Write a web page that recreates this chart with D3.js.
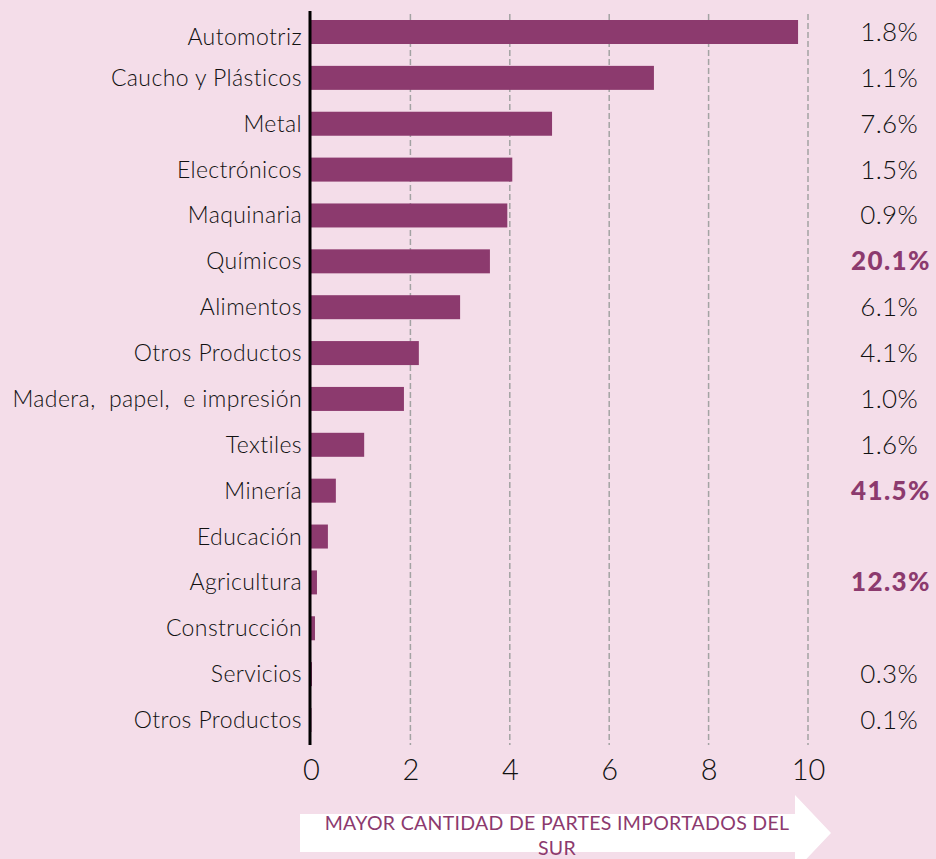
<!DOCTYPE html>
<html><head><meta charset="utf-8">
<script src="https://cdn.jsdelivr.net/npm/d3@7"></script>
<style>
html,body{margin:0;padding:0;background:#F4DDE9;}
svg{display:block;}
</style></head>
<body>
<svg id="chart" width="936" height="859"></svg>
<script>
const categories = ["Automotriz","Caucho y Plásticos","Metal","Electrónicos","Maquinaria","Químicos","Alimentos","Otros Productos","Madera,  papel,  e impresión","Textiles","Minería","Educación","Agricultura","Construcción","Servicios","Otros Productos "];
const values = [9.8,6.9,4.85,4.05,3.95,3.6,3.0,2.17,1.87,1.07,0.5,0.34,0.12,0.08,0.02,0.01];
const shares = ["1.8%","1.1%","7.6%","1.5%","0.9%","20.1%","6.1%","4.1%","1.0%","1.6%","41.5%","","12.3%","","0.3%","0.1%"];
const highlighted = [false,false,false,false,false,true,false,false,false,false,true,false,true,false,false,false];
const xTicks = [0,2,4,6,8,10];
const arrowText = ["MAYOR CANTIDAD DE PARTES IMPORTADOS DEL","SUR"];

const purple = "#8C3A6E";
const font = "Lato, 'Noto Sans', sans-serif";
const svg = d3.select("#chart");
svg.append("rect").attr("width",936).attr("height",859).attr("fill","#F4DDE9");

const x = d3.scaleLinear().domain([0,10]).range([311,808]);
const y = d3.scalePoint().domain(d3.range(categories.length)).range([32,720]);
const barH = 24;

// gridlines
svg.append("g").selectAll("line").data(xTicks.filter(d=>d>0)).join("line")
  .attr("x1",d=>x(d)).attr("x2",d=>x(d)).attr("y1",14).attr("y2",745)
  .attr("stroke","#A3A3A3").attr("stroke-width",1.5).attr("stroke-dasharray","6,3");

// bars
svg.append("g").selectAll("rect").data(values).join("rect")
  .attr("x",x(0)).attr("y",(d,i)=>y(i)-barH/2).attr("height",barH)
  .attr("width",d=>Math.max(0,x(d)-x(0))).attr("fill",purple);

// axis line
svg.append("line").attr("x1",310).attr("x2",310).attr("y1",11).attr("y2",745)
  .attr("stroke","#000").attr("stroke-width",3);

// category labels
svg.append("g").selectAll("text").data(categories).join("text")
  .attr("x",302).attr("y",(d,i)=>y(i)+(i===0?13:8))
  .attr("text-anchor","end").attr("font-family",font).attr("font-size",23).attr("font-weight",300)
  .attr("letter-spacing",0.4).attr("fill","#111").style("white-space","pre")
  .text(d=>d.trim());

// share labels
svg.append("g").selectAll("text").data(shares).join("text")
  .attr("x",(d,i)=>highlighted[i]?931:918).attr("y",(d,i)=>y(i)+9)
  .attr("text-anchor","end").attr("font-family",font)
  .attr("font-size",26)
  .attr("font-weight",(d,i)=>highlighted[i]?900:300)
  .attr("letter-spacing",(d,i)=>highlighted[i]?1.4:0.3)
  .attr("fill",(d,i)=>highlighted[i]?purple:"#111")
  .text(d=>d);

// x axis ticks
const axis = svg.append("g").attr("transform","translate(0,780)")
  .call(d3.axisBottom(x).tickValues(xTicks).tickSize(0).tickPadding(0).tickFormat(d3.format("d")));
axis.select(".domain").remove();
axis.selectAll("text").attr("font-family",font).attr("font-size",29).attr("fill","#111")
  .attr("font-weight",300).attr("dy",0);

// arrow
svg.append("path")
  .attr("d","M300,814 L795,814 L795,795 L831,833 L795,871 L795,852 L300,852 Z")
  .attr("fill","#fff");
svg.append("g").selectAll("text").data(arrowText).join("text")
  .attr("x",557).attr("y",(d,i)=>830+i*25)
  .attr("text-anchor","middle").attr("font-family",font).attr("font-size",19.5)
  .attr("letter-spacing",0.3).attr("fill",purple)
  .text(d=>d);
</script>
</body></html>
